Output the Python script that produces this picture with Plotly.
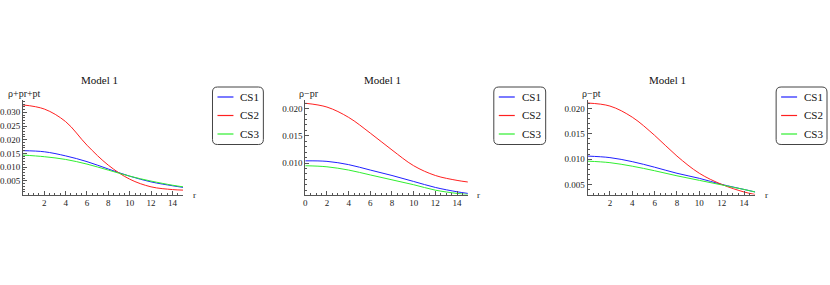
import plotly.graph_objects as go

W, H = 830, 285

r = [0, 2, 4, 6, 8, 10, 12, 14, 15]
series_names = ["CS1", "CS2", "CS3"]
colors = ["#2020ff", "#ff2020", "#30ee30"]

# panel 1: rho + pr + pt
p1_cs1 = [0.0160, 0.0156, 0.0141, 0.0120, 0.0093, 0.0067, 0.0046, 0.0032, 0.0026]
p1_cs2 = [0.0327, 0.0312, 0.0266, 0.0180, 0.0107, 0.0056, 0.0028, 0.0018, 0.0016]
p1_cs3 = [0.0144, 0.0138, 0.0128, 0.0111, 0.0089, 0.0067, 0.0049, 0.0034, 0.0028]

# panel 2: rho - pr
p2_cs1 = [0.0104, 0.0103, 0.0097, 0.0087, 0.0077, 0.0066, 0.0055, 0.0047, 0.0044]
p2_cs2 = [0.0210, 0.0203, 0.0184, 0.0155, 0.0124, 0.0095, 0.0077, 0.0068, 0.0065]
p2_cs3 = [0.0095, 0.0093, 0.0087, 0.0078, 0.0069, 0.0060, 0.0050, 0.0044, 0.0042]

# panel 3: rho - pt
p3_cs1 = [0.0106, 0.0103, 0.0095, 0.0084, 0.0072, 0.0062, 0.0050, 0.0040, 0.0035]
p3_cs2 = [0.0211, 0.0205, 0.0183, 0.0147, 0.0106, 0.0072, 0.0050, 0.0035, 0.0030]
p3_cs3 = [0.0096, 0.0093, 0.0086, 0.0077, 0.0067, 0.0058, 0.0049, 0.0040, 0.0035]

titles = ["Model 1", "Model 1", "Model 1"]
ylabels = ["\u03c1+pr+pt", "\u03c1\u2212pr", "\u03c1\u2212pt"]
xticks = [[2, 4, 6, 8, 10, 12, 14], [0, 2, 4, 6, 8, 10, 12, 14], [2, 4, 6, 8, 10, 12, 14]]
yticks = [[0.005, 0.010, 0.015, 0.020, 0.025, 0.030], [0.010, 0.015, 0.020],
          [0.005, 0.010, 0.015, 0.020]]
yranges = [[0.0, 0.0345], [0.0042, 0.0216], [0.0030, 0.0217]]

panels = [[p1_cs1, p1_cs2, p1_cs3], [p2_cs1, p2_cs2, p2_cs3], [p3_cs1, p3_cs2, p3_cs3]]

# pixel layout of each panel: plot left, plot right, legend left, legend right
boxes = [(21, 181.5, 211, 262), (304, 467, 493, 545), (587, 755, 776, 827)]
plot_top, plot_bottom = 100, 194.5
leg_top, leg_bottom = 87, 144.5

FONT = "Liberation Serif"


def px(x):
    return x / W


def py(y):
    return 1 - y / H


def label(text, x, y, size, xanchor="center", color="#222"):
    return dict(text=text, x=px(x), y=py(y), xref="paper", yref="paper",
                xanchor=xanchor, yanchor="middle", showarrow=False,
                font=dict(family=FONT, size=size, color=color))


fig = go.Figure()
shapes = []
annotations = []

for i, (vals, (x0, x1, lx0, lx1)) in enumerate(zip(panels, boxes)):
    n = "" if i == 0 else str(i + 1)
    for name, col, v in zip(series_names, colors, vals):
        fig.add_trace(go.Scatter(
            x=r, y=v, mode="lines", name=name, showlegend=False,
            line=dict(color=col, width=1, shape="spline", smoothing=1.0),
            xaxis="x" + n, yaxis="y" + n,
        ))
    axis_common = dict(
        showgrid=False, zeroline=False, showline=True, linecolor="#555",
        linewidth=1, ticks="inside", ticklen=4, tickcolor="#555",
        tickfont=dict(family=FONT, size=9, color="#222"),
    )
    fig.update_layout(**{
        "xaxis" + n: dict(axis_common, domain=[px(x0), px(x1)], range=[0, 15],
                          tickvals=xticks[i], anchor="y" + n,
                          minor=dict(ticks="inside", ticklen=2, tickcolor="#555", dtick=0.5)),
        "yaxis" + n: dict(axis_common, domain=[py(plot_bottom), py(plot_top)],
                          range=yranges[i], tickvals=yticks[i], tickformat=".3f",
                          anchor="x" + n,
                          minor=dict(ticks="inside", ticklen=2, tickcolor="#555", dtick=0.001)),
    })
    # title, axis labels
    annotations.append(label(titles[i], (x0 + x1) / 2 - 4, 80, 11, color="#111"))
    annotations.append(label(ylabels[i], 4 if i == 0 else x0 - 8, 93, 10, xanchor="left"))
    annotations.append(label("r", x1 + 11, 195, 9))
    # legend box (rounded)
    rr = 5
    xa, xb, ya, yb = lx0, lx1, leg_top, leg_bottom
    path = (f"M {px(xa + rr)},{py(ya)} L {px(xb - rr)},{py(ya)} "
            f"Q {px(xb)},{py(ya)} {px(xb)},{py(ya + rr)} L {px(xb)},{py(yb - rr)} "
            f"Q {px(xb)},{py(yb)} {px(xb - rr)},{py(yb)} L {px(xa + rr)},{py(yb)} "
            f"Q {px(xa)},{py(yb)} {px(xa)},{py(yb - rr)} L {px(xa)},{py(ya + rr)} "
            f"Q {px(xa)},{py(ya)} {px(xa + rr)},{py(ya)} Z")
    shapes.append(dict(type="path", path=path, xref="paper", yref="paper",
                       line=dict(color="#444", width=1)))
    for k, (name, col) in enumerate(zip(series_names, colors)):
        yy = 97 + k * 18.5
        shapes.append(dict(type="line", xref="paper", yref="paper",
                           x0=px(lx0 + 5), x1=px(lx0 + 21), y0=py(yy), y1=py(yy),
                           line=dict(color=col, width=1.2)))
        annotations.append(label(name, lx0 + 26, yy, 11, xanchor="left", color="#111"))

fig.update_layout(
    width=W, height=H, margin=dict(l=0, r=0, t=0, b=0),
    paper_bgcolor="white", plot_bgcolor="white",
    shapes=shapes, annotations=annotations,
)

# drop the default page margin so the figure sits at the window origin
fig.write_html("out.html", config={"displayModeBar": False},
               post_script="document.body.style.margin='0';")
